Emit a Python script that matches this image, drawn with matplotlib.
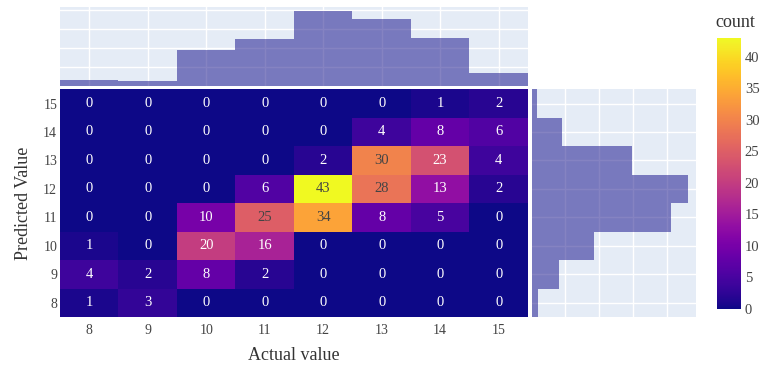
import numpy as np
import matplotlib
matplotlib.use("Agg")
from matplotlib import pyplot as plt

plt.rcParams['font.family'] = ['Liberation Serif', 'DejaVu Serif']

actual = [8, 9, 10, 11, 12, 13, 14, 15]
predicted = [8, 9, 10, 11, 12, 13, 14, 15]
# rows = predicted 8..15, columns = actual 8..15
counts = np.array([
    [1, 3, 0, 0, 0, 0, 0, 0],
    [4, 2, 8, 2, 0, 0, 0, 0],
    [1, 0, 20, 16, 0, 0, 0, 0],
    [0, 0, 10, 25, 34, 8, 5, 0],
    [0, 0, 0, 6, 43, 28, 13, 2],
    [0, 0, 0, 0, 2, 30, 23, 4],
    [0, 0, 0, 0, 0, 4, 8, 6],
    [0, 0, 0, 0, 0, 0, 1, 2],
])

BG = '#E5ECF6'
BAR = '#0d0887'
TXT = '#444444'

fig = plt.figure(figsize=(7.64, 3.67), dpi=100)

ax = fig.add_axes([0.0785, 0.1362, 0.6125, 0.6205])
ax_top = fig.add_axes([0.0785, 0.7657, 0.6125, 0.2153])
ax_right = fig.add_axes([0.6957, 0.1362, 0.2153, 0.6205])
cax = fig.add_axes([0.938, 0.158, 0.0315, 0.7385])

# heatmap
edges_x = np.arange(actual[0] - 0.5, actual[-1] + 1)
edges_y = np.arange(predicted[0] - 0.5, predicted[-1] + 1)
mesh = ax.pcolormesh(edges_x, edges_y, counts, cmap='plasma', vmin=0, vmax=43)
for i, p in enumerate(predicted):
    for j, a in enumerate(actual):
        v = counts[i, j]
        ax.text(a, p, str(v), ha='center', va='center', fontsize=10.5,
                color=TXT if v >= 24 else 'white')
ax.set_xlim(edges_x[0], edges_x[-1])
ax.set_ylim(edges_y[0], edges_y[-1])
ax.set_xticks(actual)
ax.set_yticks(predicted)
ax.tick_params(length=0, labelsize=10, colors=TXT)
ax.tick_params(axis='y', pad=2)
ax.tick_params(axis='x', pad=5)
for s in ax.spines.values():
    s.set_visible(False)
ax.set_xlabel('Actual value', fontsize=13, color='#333333', labelpad=7)
ax.set_ylabel('Predicted Value', fontsize=13, color='#333333', labelpad=8)

# top marginal histogram
ax_top.set_facecolor(BG)
ax_top.bar(actual, counts.sum(axis=0), width=1, color=BAR, alpha=0.5, zorder=3)
ax_top.set_xlim(edges_x[0], edges_x[-1])
ax_top.set_ylim(0, 83)
ax_top.set_xticks(actual)
ax_top.set_yticks([20, 40, 60, 80])
ax_top.grid(True, color='white', linewidth=1)
ax_top.set_axisbelow(True)
ax_top.tick_params(length=0, labelbottom=False, labelleft=False)
for s in ax_top.spines.values():
    s.set_visible(False)

# right marginal histogram
ax_right.set_facecolor(BG)
ax_right.barh(predicted, counts.sum(axis=1), height=1, color=BAR, alpha=0.5, zorder=3)
ax_right.set_ylim(edges_y[0], edges_y[-1])
ax_right.set_xlim(0, 97)
ax_right.set_yticks(predicted)
ax_right.set_xticks([20, 40, 60, 80])
ax_right.grid(True, color='white', linewidth=1)
ax_right.set_axisbelow(True)
ax_right.tick_params(length=0, labelbottom=False, labelleft=False)
for s in ax_right.spines.values():
    s.set_visible(False)

# colorbar
cb = fig.colorbar(mesh, cax=cax)
cb.outline.set_visible(False)
cb.set_ticks(range(0, 45, 5))
cax.tick_params(length=0, labelsize=10.5, colors=TXT, pad=3)
cax.text(-0.05, 1.025, 'count', transform=cax.transAxes, ha='left', va='bottom',
         fontsize=13, color='#333333')

fig.savefig('out.png', dpi=100)
